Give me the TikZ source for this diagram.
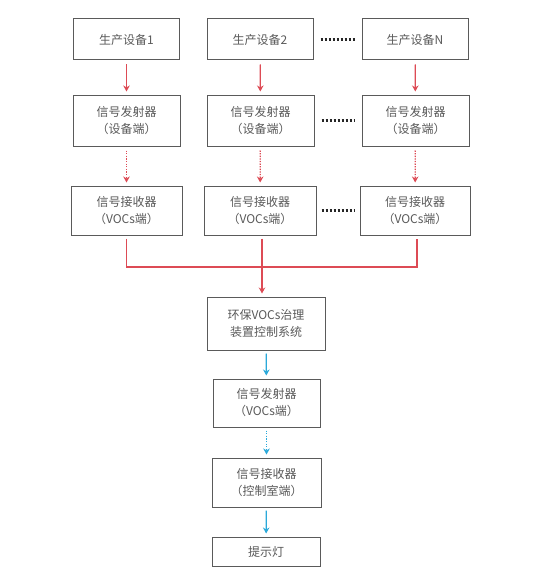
\documentclass[tikz,border=0pt]{standalone}
\usepackage{fontspec}
\setmainfont{Noto Sans CJK SC}
\usetikzlibrary{arrows.meta}
\definecolor{boxgray}{HTML}{5A5A5A}
\definecolor{txtgray}{HTML}{5A5A5A}
\definecolor{redline}{HTML}{DD4B55}
\definecolor{blueline}{HTML}{2AA9DA}
\tikzset{
  box/.style={draw=boxgray, line width=1pt, minimum width=#1, align=center, inner sep=0pt, text=txtgray, font=\fontsize{12}{17}\selectfont},
  box/.default=107pt,
  redarr/.style={draw=redline, line width=1.3pt, -{Stealth[length=6pt,width=6.5pt]}, shorten <=4pt, shorten >=3pt},
  reddot/.style={redarr, dash pattern=on 1.3pt off 1.3pt},
  redln/.style={draw=redline, line width=1.3pt},
  bluearr/.style={draw=blueline, line width=1.3pt, -{Stealth[length=6pt,width=6.5pt]}, shorten <=3pt, shorten >=3pt},
  bluedot/.style={bluearr, dash pattern=on 1.3pt off 1.3pt},
  dots/.style={draw=black!85, line width=2.4pt, dash pattern=on 2pt off 2pt}
}
\begin{document}
\begin{tikzpicture}[x=1pt,y=-1pt]
\useasboundingbox[fill=white] (0,0) rectangle (546,578);
% row 1
\node[box=106pt, minimum height=41pt] (a1) at (126.5,39.5) {生产设备1};
\node[box=106pt, minimum height=41pt] (a2) at (260,39.5) {生产设备2};
\node[box=106pt, minimum height=41pt] (a3) at (415,39.5) {生产设备N};
% row 2
\node[box=107pt, minimum height=51pt] (b1) at (126.5,120.5) {信号发射器\\（设备端）};
\node[box=107pt, minimum height=51pt] (b2) at (260.5,120.5) {信号发射器\\（设备端）};
\node[box=107pt, minimum height=51pt] (b3) at (415.5,120.5) {信号发射器\\（设备端）};
% row 3
\node[box=111pt, minimum height=49pt] (c1) at (126.5,210.5) {信号接收器\\（VOCs端）};
\node[box=112pt, minimum height=49pt] (c2) at (260,210.5) {信号接收器\\（VOCs端）};
\node[box=110pt, minimum height=49pt] (c3) at (415,210.5) {信号接收器\\（VOCs端）};
% lower column
\node[box=118pt, minimum height=53pt] (env) at (266,323.5) {环保VOCs治理\\装置控制系统};
\node[box=107pt, minimum height=48pt] (d1) at (266.5,403) {信号发射器\\（VOCs端）};
\node[box=109pt, minimum height=49pt] (d2) at (266.5,482.5) {信号接收器\\（控制室端）};
\node[box=108pt, minimum height=29pt] (lamp) at (266,551.5) {提示灯};
% dots
\draw[dots] ([xshift=7pt]a2.east) -- ([xshift=-7pt]a3.west);
\draw[dots] ([xshift=7pt]b2.east) -- ([xshift=-7pt]b3.west);
\draw[dots] ([xshift=5pt]c2.east) -- ([xshift=-5pt]c3.west);
% red arrows
\draw[redarr] (a1) -- (b1);
\draw[redarr] (a2) -- (b2);
\draw[redarr] (a3) -- (b3);
\draw[reddot] (b1) -- (c1);
\draw[reddot] (b2) -- (c2);
\draw[reddot] (b3) -- (c3);
% merge
\coordinate (j1) at (c1.south |- 0,267);
\coordinate (j2) at (262,267);
\coordinate (j3) at (417,267);
\draw[redln] ([yshift=-3pt]c1.south) -- (j1) -- (j3) -- ([yshift=-3pt]c3.south -| j3);
\draw[redln] ([yshift=-3pt]c2.south -| j2) -- (j2);
\draw[redarr, shorten <=0pt] (j2) -- (j2 |- env.north);
% blue arrows
\draw[bluearr] (env) -- (d1);
\draw[bluedot] (d1) -- (d2);
\draw[bluearr] (d2) -- (lamp);
\end{tikzpicture}
\end{document}
